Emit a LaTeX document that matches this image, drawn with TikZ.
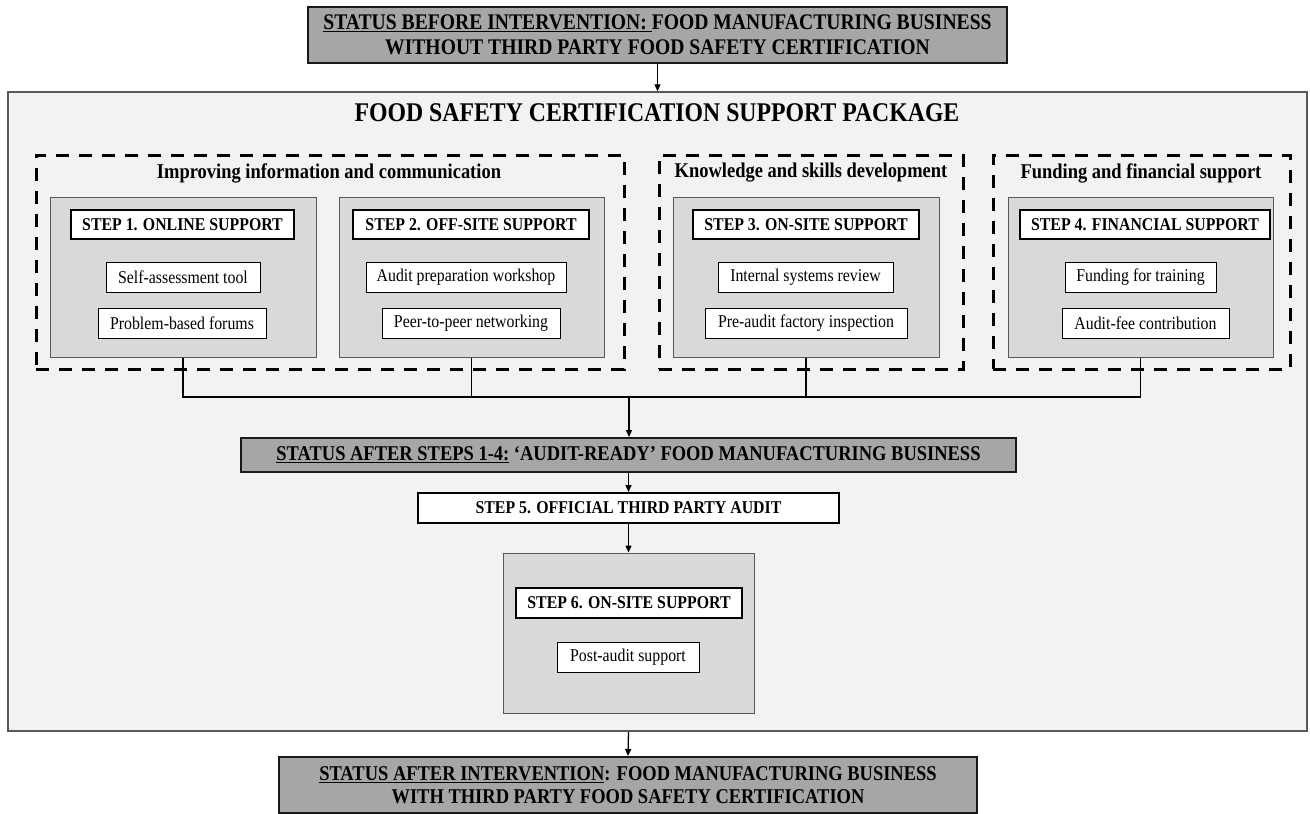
\documentclass[tikz,border=0pt]{standalone}
\usepackage{fontspec}
\setmainfont[FakeStretch=0.88]{Liberation Serif}
\usetikzlibrary{arrows.meta}
\definecolor{mainfill}{HTML}{F2F2F2}
\definecolor{stepfill}{HTML}{D9D9D9}
\definecolor{statfill}{HTML}{A6A6A6}
\definecolor{edgegray}{HTML}{595959}
\begin{document}
\begin{tikzpicture}[x=1pt,y=-1pt,
  box/.style={inner sep=0pt, align=center},
  mainbox/.style={box, draw=edgegray, line width=1.5pt, fill=mainfill},
  statbox/.style={box, draw=black!90, line width=2pt, fill=statfill},
  dashbox/.style={box, draw=black, line width=3pt, dash pattern=on 13pt off 10pt},
  stepbox/.style={box, draw=edgegray, line width=1pt, fill=stepfill, minimum height=160},
  hdr/.style={box, draw=black, line width=2pt, fill=white, minimum height=29, font=\bfseries\fontsize{18}{21}\selectfont},
  item/.style={box, draw=black, line width=1pt, fill=white, minimum height=30, font=\fontsize{18}{21}\selectfont},
  lbl/.style={box, font=\bfseries\fontsize{21}{24}\selectfont},
  conn/.style={line width=1.3pt, draw=black},
  arr/.style={conn, -{Triangle[length=7pt,width=6pt]}}
]
\useasboundingbox (0,0) rectangle (1310,814);
\fill[white] (0,0) rectangle (1310,814);

% top status
\node[statbox, minimum width=699, minimum height=56, font=\bfseries\fontsize{22.3}{25}\selectfont] (before) at (657.5,35)
  {\underline{STATUS BEFORE INTERVENTION:\ }FOOD MANUFACTURING BUSINESS\\WITHOUT THIRD PARTY FOOD SAFETY CERTIFICATION};

% main package box
\node[mainbox, minimum width=1299, minimum height=639] (pkg) at (657.5,411.5) {};
\node[box, font=\bfseries\fontsize{27}{30}\selectfont] (title) at (657,113) {FOOD SAFETY CERTIFICATION SUPPORT PACKAGE};

% dashed groups
\node[dashbox, minimum width=588, minimum height=214] (g1) at (330,262) {};
\node[dashbox, minimum width=304, minimum height=214] (g2) at (811,262) {};
\node[dashbox, minimum width=297, minimum height=214] (g3) at (1141.5,262) {};
\node[lbl] (l1) at (329,173) {Improving information and communication};
\node[lbl] (l2) at (811,173) {Knowledge and skills development};
\node[lbl] (l3) at (1141,173) {Funding and financial support};

% step boxes
\node[stepbox, minimum width=266] (s1) at (183,277) {};
\node[stepbox, minimum width=265] (s2) at (471.5,277) {};
\node[stepbox, minimum width=266] (s3) at (806,277) {};
\node[stepbox, minimum width=265] (s4) at (1140.5,277) {};

\node[hdr, minimum width=223] (h1) at (182.5,224.5) {STEP 1. ONLINE SUPPORT};
\node[hdr, minimum width=236] (h2) at (471,224.5) {STEP 2. OFF-SITE SUPPORT};
\node[hdr, minimum width=226] (h3) at (806,224.5) {STEP 3. ON-SITE SUPPORT};
\node[hdr, minimum width=250] (h4) at (1145,224.5) {STEP 4. FINANCIAL SUPPORT};

\node[item, minimum width=154] (i11) at (183,277) {Self-assessment tool};
\node[item, minimum width=168] (i12) at (182,323) {Problem-based forums};
\node[item, minimum width=200] (i21) at (466,277) {Audit preparation workshop};
\node[item, minimum width=178] (i22) at (471,323) {Peer-to-peer networking};
\node[item, minimum width=175] (i31) at (805.5,277) {Internal systems review};
\node[item, minimum width=202] (i32) at (806,323) {Pre-audit factory inspection};
\node[item, minimum width=151] (i41) at (1140.5,277) {Funding for training};
\node[item, minimum width=167] (i42) at (1145.5,323) {Audit-fee contribution};

% connectors
\coordinate (hub) at (629,397);
\draw[conn] (s1.south) -- (s1.south |- hub) -- (s4.south |- hub) -- (s4.south);
\draw[conn] (s2.south) -- (s2.south |- hub);
\draw[conn] (s3.south) -- (s3.south |- hub);

% audit-ready and step 5
\node[statbox, minimum width=775, minimum height=34, font=\bfseries\fontsize{21}{24}\selectfont] (ready) at (628.5,455)
  {\underline{STATUS AFTER STEPS 1-4:} ‘AUDIT-READY’ FOOD MANUFACTURING BUSINESS};
\node[hdr, minimum width=421, minimum height=30] (s5) at (628.5,508) {STEP 5. OFFICIAL THIRD PARTY AUDIT};

% step 6
\node[stepbox, minimum width=251] (s6) at (628.5,633) {};
\node[hdr, minimum width=226, minimum height=30] (h6) at (629,603) {STEP 6. ON-SITE SUPPORT};
\node[item, minimum width=142] (i61) at (628,657) {Post-audit support};

% bottom status
\node[statbox, minimum width=698, minimum height=56, font=\bfseries\fontsize{21}{23}\selectfont] (after) at (628,785)
  {\underline{STATUS AFTER INTERVENTION}: FOOD MANUFACTURING BUSINESS\\WITH THIRD PARTY FOOD SAFETY CERTIFICATION};

% arrows
\draw[arr] (before.south) -- (before.south |- pkg.north);
\draw[arr] (hub) -- (hub |- ready.north);
\draw[arr] (ready.south) -- (s5.north);
\draw[arr] (s5.south) -- (s6.north);
\draw[arr] (s6.south |- pkg.south) -- (after.north);
\end{tikzpicture}
\end{document}
